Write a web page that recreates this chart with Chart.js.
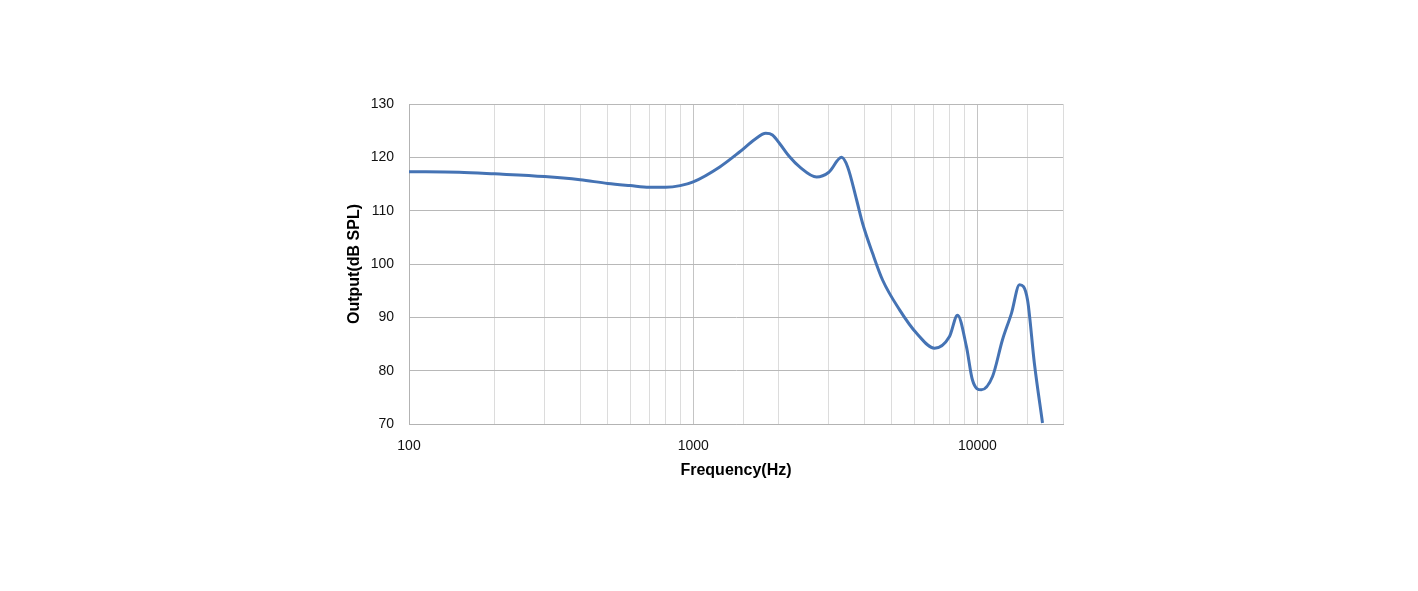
<!DOCTYPE html>
<html>
<head>
<meta charset="utf-8">
<script src="https://cdn.jsdelivr.net/npm/chart.js@4.4.0/dist/chart.umd.min.js"></script>
<style>
  html, body { margin: 0; padding: 0; background: #ffffff; }
  #wrap { width: 1418px; height: 591px; position: relative; }
</style>
</head>
<body>
<div id="wrap"><canvas id="c" width="1418" height="591"></canvas></div>
<script>
const frequencies = [100, 150, 200, 300, 400, 500, 600, 700, 800, 900, 1000, 1240, 1455, 1650, 1800, 1900, 2013, 2183, 2368, 2717, 3000, 3326, 3494, 3758, 3945, 4276, 4637, 5322, 6109, 7065, 7975, 8510, 9147, 9599, 10320, 11300, 12250, 13180, 14060, 15000, 15860, 16940];
const outputDb = [117.3, 117.2, 116.9, 116.4, 115.8, 115.1, 114.7, 114.4, 114.4, 114.7, 115.4, 118.2, 121.0, 123.4, 124.5, 124.2, 122.6, 120.1, 118.2, 116.3, 117.2, 120.0, 118.2, 112.0, 107.6, 102.0, 97.0, 91.4, 87.0, 84.2, 86.4, 90.4, 84.5, 78.3, 76.4, 78.9, 85.8, 90.8, 96.1, 93.3, 81.4, 70.2];
const xLabelValues = [100, 1000, 10000];
const yTicks = [70, 80, 90, 100, 110, 120, 130];

const points = frequencies.map((f, i) => ({ x: f, y: outputDb[i] }));
const FONT = "'Liberation Sans', Arial, sans-serif";

new Chart(document.getElementById('c'), {
  type: 'line',
  data: {
    datasets: [{
      data: points,
      borderColor: '#4573b4',
      borderWidth: 3,
      pointRadius: 0,
      cubicInterpolationMode: 'monotone',
      fill: false
    }]
  },
  options: {
    responsive: false,
    animation: false,
    events: [],
    layout: { padding: { left: 340, right: 355, top: 104, bottom: 107 } },
    plugins: { legend: { display: false }, tooltip: { enabled: false } },
    scales: {
      x: {
        type: 'logarithmic',
        min: 100,
        max: 20000,
        afterFit: (s) => { s.height = 60; },
        border: { display: true, color: '#b3b3b3', width: 1 },
        grid: {
          drawTicks: false,
          color: (ctx) => {
            const v = ctx.tick && ctx.tick.value;
            if (v === undefined) return '#d9d9d9';
            const lg = Math.log10(v);
            return Math.abs(lg - Math.round(lg)) < 1e-9 ? '#c4c4c4' : '#dcdcdc';
          },
          lineWidth: 1
        },
        ticks: {
          autoSkip: false,
          maxRotation: 0,
          padding: 14,
          color: '#111111',
          font: { family: FONT, size: 14 },
          callback: (v) => xLabelValues.includes(v) ? String(v) : ''
        },
        title: {
          display: true,
          text: 'Frequency(Hz)',
          color: '#000000',
          font: { family: FONT, size: 16, weight: 'bold' },
          padding: { top: 0, bottom: 4 }
        }
      },
      y: {
        min: 70,
        max: 130,
        afterFit: (s) => { s.width = 69; },
        afterBuildTicks: (s) => { s.ticks = yTicks.map(v => ({ value: v })); },
        border: { display: true, color: '#b3b3b3', width: 1 },
        grid: { drawTicks: false, color: '#b8b8b8', lineWidth: 1 },
        ticks: {
          padding: 15,
          color: '#111111',
          font: { family: FONT, size: 14 }
        },
        title: {
          display: true,
          text: 'Output(dB SPL)',
          color: '#000000',
          font: { family: FONT, size: 16, weight: 'bold' },
          padding: { top: 5, bottom: 0 }
        }
      }
    }
  }
});
</script>
</body>
</html>
